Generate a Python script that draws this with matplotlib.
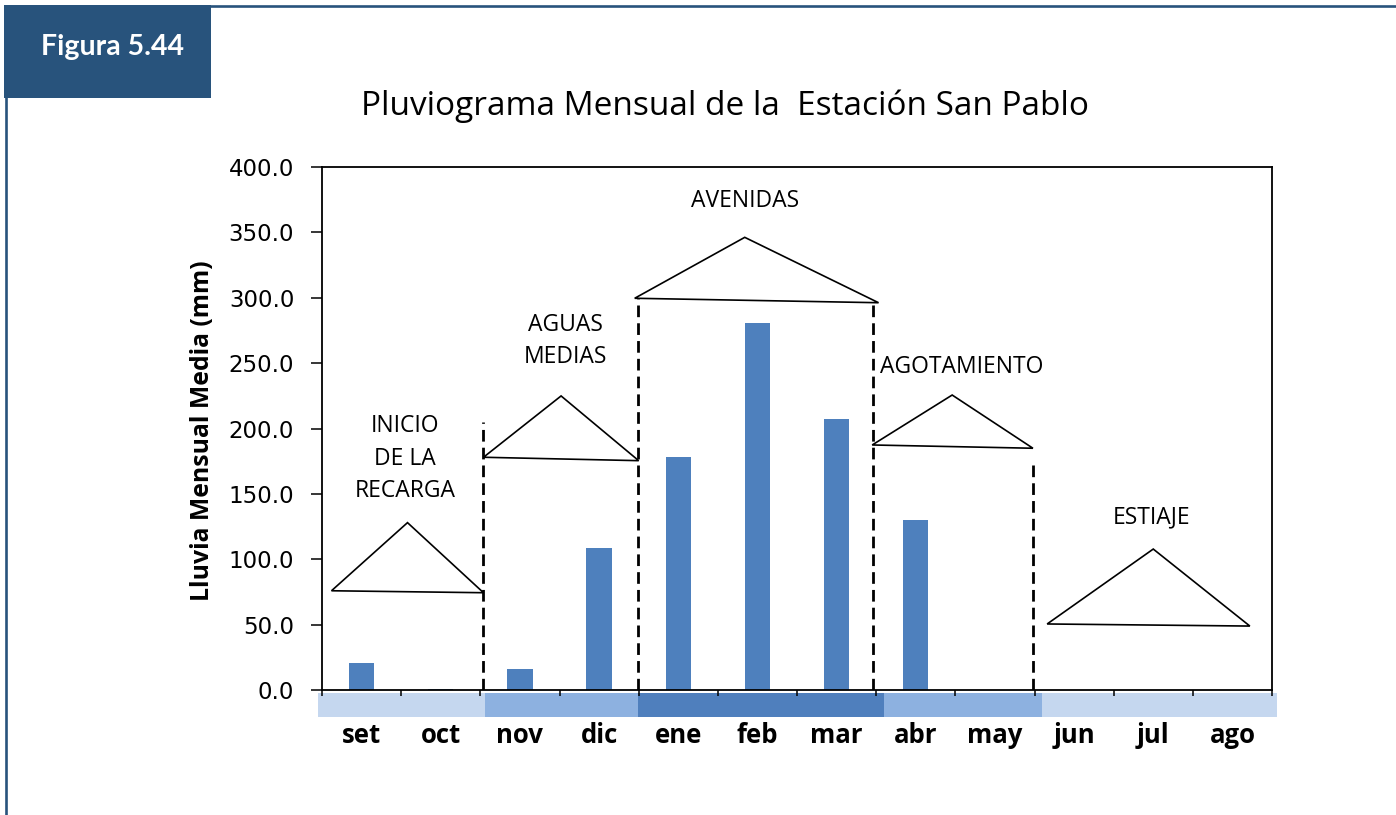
import matplotlib
matplotlib.use("Agg")
import matplotlib.pyplot as plt
from matplotlib.patches import Rectangle, Polygon
from matplotlib.lines import Line2D

# Monthly mean rainfall (mm), hydrological year starting in September
months = ["set", "oct", "nov", "dic", "ene", "feb", "mar", "abr", "may", "jun", "jul", "ago"]
rain_mm = [20.5, 1.0, 16.0, 108.5, 178.0, 281.0, 207.5, 130.0, 0.0, 0.0, 0.0, 0.0]
y_ticks = [0, 50, 100, 150, 200, 250, 300, 350, 400]

# Seasonal phases: label, label anchor (x, y), triangle vertices (x, y) in data units
phase_labels = ["INICIO\nDE LA\nRECARGA", "AGUAS\nMEDIAS", "AVENIDAS", "AGOTAMIENTO", "ESTIAJE"]
phase_label_xy = [(0.55, 177.0), (2.57, 267.0), (4.84, 374.0), (7.58, 247.0), (9.98, 132.0)]
phase_triangles = [
    [(-0.38, 75.9), (0.58, 128.0), (1.54, 74.4)],
    [(1.54, 178.0), (2.52, 224.9), (3.50, 175.4)],
    [(3.45, 299.6), (4.84, 346.2), (6.53, 296.2)],
    [(6.45, 187.4), (7.46, 225.6), (8.48, 184.9)],
    [(8.66, 50.5), (10.0, 107.8), (11.22, 48.9)],
]
# Dashed phase separators: x position and upper end (mm)
sep_x = [1.53, 3.49, 6.46, 8.48]
sep_top = [205.0, 300.0, 296.0, 172.0]

# Season band under the month axis: edges and colours
band_edges = [-0.55, 1.56, 3.49, 6.60, 8.60, 11.56]
band_colors = ["#c5d7ef", "#8db1e0", "#4f7fbd", "#8db1e0", "#c5d7ef"]

BAR_COLOR = "#4e80bd"
FRAME_BLUE = "#28537c"

fig = plt.figure(figsize=(13.96, 8.15), dpi=100)
fig.patch.set_facecolor("white")

# Page decoration: header badge and frame lines
fig.patches.append(Rectangle((4 / 1396, 1 - 98 / 815), 207 / 1396, 93 / 815,
                             transform=fig.transFigure, facecolor=FRAME_BLUE,
                             edgecolor="none", zorder=5))
fig.lines.append(Line2D([211 / 1396, 1.0], [1 - 6 / 815, 1 - 6 / 815],
                        transform=fig.transFigure, color=FRAME_BLUE, lw=1.9))
fig.lines.append(Line2D([6 / 1396, 6 / 1396], [0.0, 1 - 98 / 815],
                        transform=fig.transFigure, color=FRAME_BLUE, lw=1.9))
fig.text(112 / 1396, 1 - 47 / 815, "Figura 5.44", color="white", fontsize=20.5,
         fontweight="bold", family="Lato", ha="center", va="center", zorder=6)

fig.text(725 / 1396, 1 - 106 / 815, "Pluviograma Mensual de la  Estación San Pablo",
         fontsize=24, family="Open Sans", ha="center", va="center")

ax = fig.add_axes([322 / 1396, 125 / 815, 950 / 1396, 523 / 815])
x = list(range(len(months)))
ax.bar(x, rain_mm, width=0.32, color=BAR_COLOR, zorder=2)

ax.set_xlim(-0.5, 11.5)
ax.set_ylim(0, 400)
ax.set_yticks(y_ticks)
ax.set_yticklabels([f"{v:.1f}" for v in y_ticks], family="DejaVu Sans", fontsize=16.5)
ax.set_xticks(x)
ax.set_xticklabels(months, family="Open Sans", fontweight="bold", fontsize=18.5)
ax.set_xticks([i + 0.5 for i in range(-1, len(months))], minor=True)
ax.tick_params(axis="x", which="major", length=0, pad=23)
ax.tick_params(axis="x", which="minor", length=4, width=1.1, direction="out")
ax.tick_params(axis="y", length=8, width=1.1, pad=12)
for s in ax.spines.values():
    s.set_linewidth(1.3)
    s.set_color("black")

ax.set_ylabel("Lluvia Mensual Media (mm)", family="Open Sans", fontweight="bold",
              fontsize=17.8)
ax.yaxis.set_label_coords(-0.113, 0.495)

# Season band below the axis
for left, right, col in zip(band_edges[:-1], band_edges[1:], band_colors):
    ax.add_patch(Rectangle((left, -2.3), right - left, -18.3, facecolor=col,
                           edgecolor="none", clip_on=False, zorder=1))

# Phase separators
for sx, top in zip(sep_x, sep_top):
    ax.plot([sx, sx], [0, top], color="black", lw=2.0,
            linestyle=(0, (4.2, 2.2)), zorder=3)

# Phase triangles and labels
for tri in phase_triangles:
    ax.add_patch(Polygon(tri, closed=True, facecolor="none", edgecolor="black",
                         lw=1.2, zorder=3))
for label, (lx, ly) in zip(phase_labels, phase_label_xy):
    ax.text(lx, ly, label, ha="center", va="center", fontsize=16.5,
            family="Open Sans", linespacing=1.45, zorder=4)

fig.savefig("out.png", dpi=100)
